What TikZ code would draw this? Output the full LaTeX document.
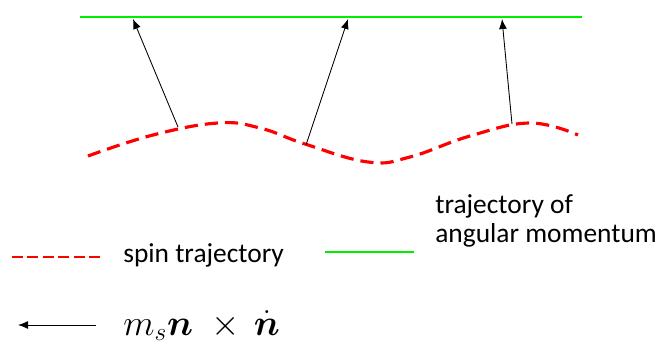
\documentclass[tikz,border=0pt]{standalone}
\usepackage{fontspec}
\setmainfont{Carlito}
\usepackage{amsmath,amssymb}
\usetikzlibrary{arrows.meta}
\definecolor{spinred}{HTML}{FF0000}
\definecolor{momgreen}{HTML}{00EE00}

\begin{document}
\begin{tikzpicture}[
    x=0.02cm, y=-0.02cm,
    every node/.style={inner sep=0pt, font=\fontsize{15.6}{16.4}\selectfont},
    spin/.style={draw=spinred, line width=1.8pt, dash pattern=on 7.5pt off 4pt},
    momentum/.style={draw=momgreen, line width=1.7pt},
    torque/.style={draw=black, line width=0.5pt, -{Latex[length=5.7pt,width=4.5pt]}},
    legendtext/.style={anchor=base west, align=left},
  ]
  \useasboundingbox (0,0) rectangle (660,345);

  % angular momentum and spin trajectories
  \coordinate (momA) at (80,17);
  \coordinate (momB) at (582,17);
  \draw[momentum] (momA) -- (momB);
  \draw[spin] plot[smooth, tension=0.7] coordinates
    {(88,156) (153,135) (218,123) (260,128) (305,144) (368,162)
     (410,157) (470,136) (530,123) (578,135)};

  \coordinate (s1) at (178,127);
  \coordinate (s2) at (306,145);
  \coordinate (s3) at (512,124);
  \coordinate (m1) at (133,19);
  \coordinate (m2) at (348,19);
  \coordinate (m3) at (502,19);
  \foreach \i in {1,2,3}
    \draw[torque] (s\i) -- (m\i);

  % legend
  \coordinate (legspinA) at (12,257);
  \coordinate (legspinB) at (101,257);
  \draw[spin, line width=0.9pt, dash pattern=on 6.2pt off 2.6pt] (legspinA) -- (legspinB);
  \node[legendtext] (spinlbl) at (123,262) {spin trajectory};

  \coordinate (legmomA) at (325,252);
  \coordinate (legmomB) at (414,252);
  \draw[momentum, line width=1.3pt] (legmomA) -- (legmomB);
  \node[legendtext] (momlbl) at (435,242) {trajectory of\\angular momentum};

  \coordinate (legtorA) at (96,325);
  \coordinate (legtorB) at (18,325);
  \draw[torque] (legtorA) -- (legtorB);
  \node[legendtext, font=\fontsize{21}{25}\selectfont] (torlbl) at (123,335)
    {$m_s\boldsymbol{n}\mkern5mu\times\mkern3mu\dot{\boldsymbol{n}}$};
\end{tikzpicture}
\end{document}
